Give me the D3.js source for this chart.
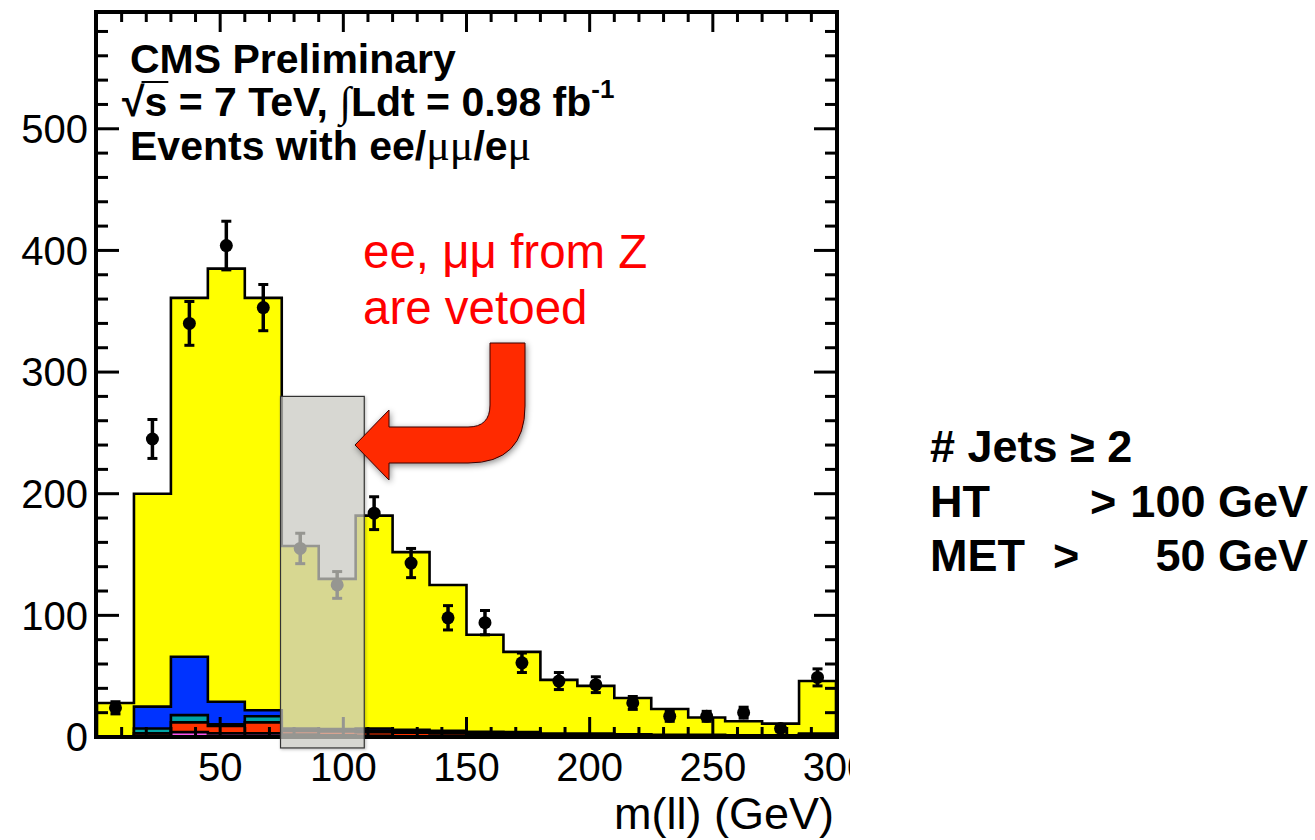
<!DOCTYPE html>
<html>
<head>
<meta charset="utf-8">
<script src="https://cdn.jsdelivr.net/npm/d3@7"></script>
<style>
  html, body { margin: 0; padding: 0; background: #ffffff; }
  svg { display: block; }
  text { font-family: "Liberation Sans", Arial, Helvetica, sans-serif; }
</style>
</head>
<body>
<svg id="chart" width="1315" height="840"></svg>
<script>
// ---- histogram binning: m(ll) from 0 to 300 GeV, 15 GeV bins ----
const binLow   = [0, 15, 30, 45, 60, 75, 90, 105, 120, 135, 150, 165, 180, 195, 210, 225, 240, 255, 270, 285];
const binWidth = 15;

// ---- simulated contributions per bin (events) ----
const ttbar     = [27.5, 175, 295, 356, 339, 150, 123.5, 175, 146, 120, 79.7, 65.9, 44.1, 39.2, 29.8, 21.2, 14.2, 11.5, 9.5, 43.2];
const drellYan  = [0, 18, 48, 18.5, 5, 1, 1, 2, 1.5, 1, 1, 0.8, 0.6, 0.5, 0.4, 0.3, 0.3, 0.2, 0.2, 0.5];
const wJets     = [0, 4, 6, 1.5, 5, 1, 1, 1, 1, 1, 0.8, 0.8, 0.5, 0.5, 0.5, 0.3, 0.3, 0.3, 0.3, 0.5];
const singleTop = [0.5, 2, 8, 6, 9, 3, 3, 3, 3, 2.5, 2, 2, 1.5, 1.5, 1, 1, 1, 0.8, 0.8, 1.5];
const diboson   = [0, 1, 4, 3, 3, 2, 1.5, 1, 0.5, 0.5, 0.5, 0.5, 0.3, 0.3, 0.3, 0.2, 0.2, 0.2, 0.2, 0.3];

// ---- observed data ----
const dataCounts = [24, 245, 340, 404, 353, 155, 125, 184, 143, 98, 94, 61, 46, 43, 28, 17, 17, 20, 7, 49];
const dataErrors = [5, 16, 18, 20, 19, 12.5, 11, 13.5, 12, 10, 10, 8, 7, 6.5, 5.3, 4.1, 4.1, 4.5, 2.6, 7];

// ---- axes ----
const xTickLabels = [50, 100, 150, 200, 250, 300];
const yTickLabels = [0, 100, 200, 300, 400, 500];
const xMinorStep = 10, yMinorStep = 20;
const xDomain = [0, 300], yDomain = [0, 596];

// ---- Z-window veto band: [m low, m high, events low, events high] ----
const vetoWindow = [74.5, 108.5, -9, 280];

// stacking order, bottom to top
const layers = [
  { name: "VV",       values: diboson,   color: "#ff55ee" },
  { name: "single t", values: singleTop, color: "#ff3300" },
  { name: "W+jets",   values: wJets,     color: "#00a3a3" },
  { name: "DY",       values: drellYan,  color: "#0033ff" },
  { name: "ttbar",    values: ttbar,     color: "#ffff00" }
];

const svg = d3.select("#chart");
const defs = svg.append("defs");

const plot = { left: 97, right: 836, top: 12, bottom: 737 };
const x = d3.scaleLinear().domain(xDomain).range([plot.left, plot.right]);
const y = d3.scaleLinear().domain(yDomain).range([plot.bottom, plot.top]);

// soft shadows for the overlay annotations
const sh = defs.append("filter").attr("id", "shadow").attr("x", "-20%").attr("y", "-20%").attr("width", "140%").attr("height", "140%");
sh.append("feDropShadow").attr("dx", 1).attr("dy", 2).attr("stdDeviation", 3).attr("flood-color", "#000").attr("flood-opacity", 0.45);
const sh2 = defs.append("filter").attr("id", "boxshadow").attr("x", "-20%").attr("y", "-20%").attr("width", "140%").attr("height", "140%");
sh2.append("feDropShadow").attr("dx", 1).attr("dy", 1).attr("stdDeviation", 1.5).attr("flood-color", "#000").attr("flood-opacity", 0.3);

// the figure is cut just right of the frame
defs.append("clipPath").attr("id", "figclip").append("rect")
  .attr("x", 0).attr("y", 0).attr("width", 850).attr("height", 840);

const fig = svg.append("g").attr("clip-path", "url(#figclip)");

// cumulative stack
const cumulative = [];
let running = binLow.map(() => 0);
layers.forEach(l => {
  running = running.map((v, i) => v + l.values[i]);
  cumulative.push({ color: l.color, tops: running.slice() });
});

const line = d3.line().x(d => x(d[0])).y(d => y(d[1]));
function stepPath(tops) {
  const pts = [[xDomain[0], 0]];
  tops.forEach((v, i) => {
    pts.push([binLow[i], v]);
    pts.push([binLow[i] + binWidth, v]);
  });
  pts.push([xDomain[1], 0]);
  return line(pts) + "Z";
}

// stacked histograms, largest first
const histG = fig.append("g");
cumulative.slice().reverse().forEach(c => {
  histG.append("path")
    .attr("d", stepPath(c.tops))
    .attr("fill", c.color)
    .attr("stroke", "#000")
    .attr("stroke-width", 2.6)
    .attr("stroke-linejoin", "miter");
});

// data points with error bars
const dataG = fig.append("g");
dataCounts.forEach((n, i) => {
  const cx = x(binLow[i] + binWidth / 2);
  const e = dataErrors[i];
  dataG.append("line").attr("x1", cx).attr("x2", cx)
    .attr("y1", y(n - e)).attr("y2", y(n + e))
    .attr("stroke", "#000").attr("stroke-width", 3.5);
  [n - e, n + e].forEach(v => {
    dataG.append("line").attr("x1", cx - 5).attr("x2", cx + 5)
      .attr("y1", y(v)).attr("y2", y(v))
      .attr("stroke", "#000").attr("stroke-width", 3);
  });
  dataG.append("circle").attr("cx", cx).attr("cy", y(n)).attr("r", 6.5).attr("fill", "#000");
});

// frame ticks on all four sides
const tickG = fig.append("g").attr("stroke", "#000").attr("stroke-width", 3);
d3.range(xDomain[0] + xMinorStep, xDomain[1], xMinorStep).forEach(v => {
  const major = v % 50 === 0;
  const len = major ? 20 : 10;
  tickG.append("line").attr("x1", x(v)).attr("x2", x(v)).attr("y1", plot.bottom).attr("y2", plot.bottom - len);
  tickG.append("line").attr("x1", x(v)).attr("x2", x(v)).attr("y1", plot.top).attr("y2", plot.top + len);
});
d3.range(yDomain[0] + yMinorStep, yDomain[1], yMinorStep).forEach(v => {
  const major = v % 100 === 0;
  const len = major ? 22 : 11;
  tickG.append("line").attr("y1", y(v)).attr("y2", y(v)).attr("x1", plot.left).attr("x2", plot.left + len);
  tickG.append("line").attr("y1", y(v)).attr("y2", y(v)).attr("x1", plot.right).attr("x2", plot.right - len);
});

// frame
fig.append("rect")
  .attr("x", plot.left - 1).attr("y", plot.top)
  .attr("width", plot.right - plot.left + 2).attr("height", plot.bottom - plot.top)
  .attr("fill", "none").attr("stroke", "#000").attr("stroke-width", 4);

// tick labels
const labelFont = 40;
fig.append("g").selectAll("text").data(xTickLabels).join("text")
  .attr("x", d => x(d)).attr("y", 781)
  .attr("text-anchor", "middle").attr("font-size", labelFont).attr("fill", "#000")
  .text(d => d);
fig.append("g").selectAll("text").data(yTickLabels).join("text")
  .attr("x", 88).attr("y", d => y(d)).attr("dy", "0.36em")
  .attr("text-anchor", "end").attr("font-size", labelFont).attr("fill", "#000")
  .text(d => d);

// axis title
fig.append("text").attr("x", 834).attr("y", 829)
  .attr("text-anchor", "end").attr("font-size", 45).attr("fill", "#000")
  .text("m(ll) (GeV)");

// CMS label block
const serif = "'Liberation Serif','DejaVu Serif',serif";
const legendG = fig.append("g").attr("font-weight", "bold").attr("font-size", 41).attr("fill", "#000");
legendG.append("text").attr("x", 130).attr("y", 73).text("CMS Preliminary");

const l2 = legendG.append("text").attr("x", 122).attr("y", 116);
l2.append("tspan").text("\u221A");
l2.append("tspan").text("s = 7 TeV, ");
l2.append("tspan").attr("font-family", serif)
  .attr("font-weight", "normal").attr("font-size", 42).text("\u222B");
l2.append("tspan").text("Ldt = 0.98 fb");
l2.append("tspan").attr("font-size", 26).attr("dy", -18).text("-1");
// overline of the square root
const sStart = l2.node().getStartPositionOfChar(1);
const sEnd = l2.node().getEndPositionOfChar(1);
legendG.append("line")
  .attr("x1", sStart.x - 3).attr("x2", sEnd.x + 1)
  .attr("y1", 82).attr("y2", 82)
  .attr("stroke", "#000").attr("stroke-width", 2);

const l3 = legendG.append("text").attr("x", 130).attr("y", 160);
l3.append("tspan").text("Events with ee/");
l3.append("tspan").attr("font-family", serif).attr("font-weight", "normal").attr("font-size", 44).text("\u03BC\u03BC");
l3.append("tspan").text("/e");
l3.append("tspan").attr("font-family", serif).attr("font-weight", "normal").attr("font-size", 44).text("\u03BC");

// Z veto overlay
fig.append("rect")
  .attr("x", x(vetoWindow[0])).attr("y", y(vetoWindow[3]))
  .attr("width", x(vetoWindow[1]) - x(vetoWindow[0]))
  .attr("height", y(vetoWindow[2]) - y(vetoWindow[3]))
  .attr("fill", "rgba(209,209,203,0.68)")
  .attr("stroke", "#333").attr("stroke-width", 1.2)
  .attr("filter", "url(#boxshadow)");

// annotation text and arrow
const noteG = svg.append("g").attr("fill", "#ff0000").attr("font-size", 47.5);
noteG.append("text").attr("x", 363).attr("y", 268).text("ee, \u03BC\u03BC from Z");
noteG.append("text").attr("x", 363).attr("y", 324).text("are vetoed");

svg.append("path")
  .attr("d", "M490,343 L525,343 L525,406 Q525,463 468,463 L389,463 L389,480 L355,445 L389,410 L389,427 L468,427 Q490,427 490,405 Z")
  .attr("fill", "#ff2a00")
  .attr("stroke", "#3a0000").attr("stroke-width", 1)
  .attr("filter", "url(#shadow)");

// selection cuts
const cutG = svg.append("g").attr("font-weight", "bold").attr("font-size", 45).attr("fill", "#000");
cutG.append("text").attr("x", 930).attr("y", 462).text("# Jets \u2265 2");
cutG.append("text").attr("x", 930).attr("y", 517).text("HT");
cutG.append("text").attr("x", 1090).attr("y", 517).text(">");
cutG.append("text").attr("x", 1308).attr("y", 517).attr("text-anchor", "end").text("100 GeV");
cutG.append("text").attr("x", 930).attr("y", 571).text("MET");
cutG.append("text").attr("x", 1053).attr("y", 571).text(">");
cutG.append("text").attr("x", 1308).attr("y", 571).attr("text-anchor", "end").text("50 GeV");
</script>
</body>
</html>
